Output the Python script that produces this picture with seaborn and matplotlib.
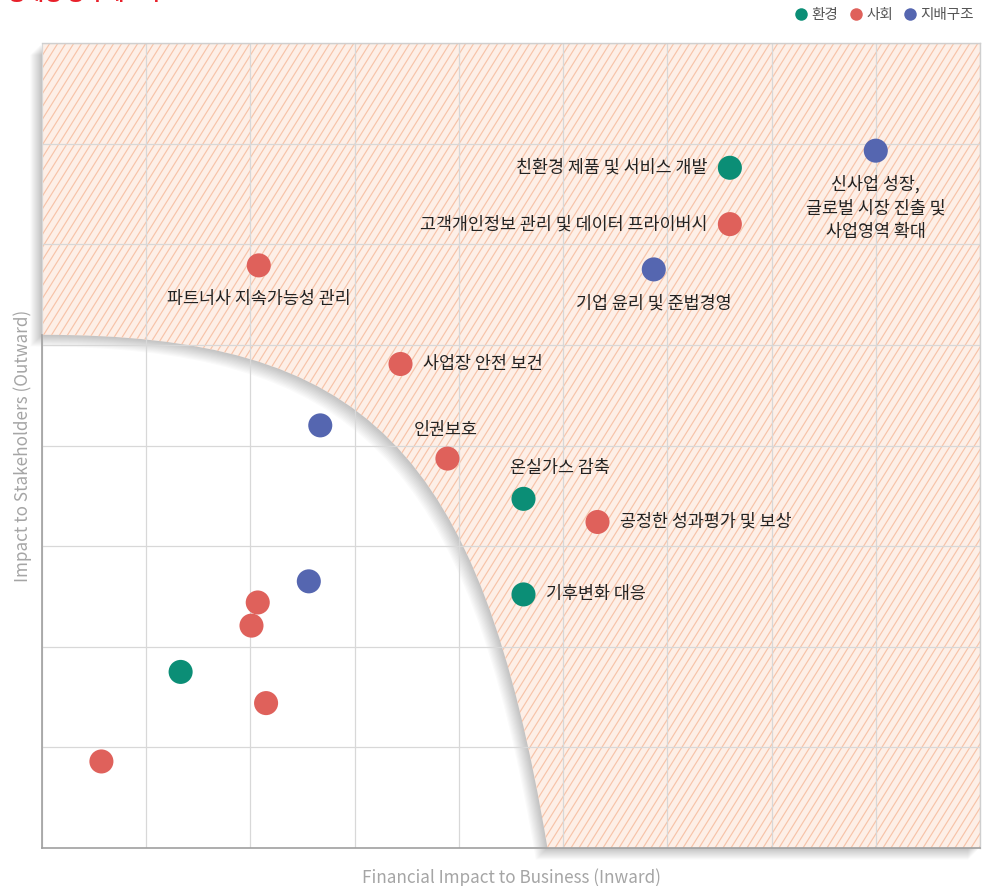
import numpy as np
import pandas as pd
import matplotlib
matplotlib.use('Agg')
import matplotlib.pyplot as plt
import matplotlib.patheffects as pe
from matplotlib.patches import PathPatch
from matplotlib.path import Path
from matplotlib.lines import Line2D
from matplotlib.collections import LineCollection
import seaborn as sns

# ---- data ----
issues = ['친환경 제품 및 서비스 개발', '고객개인정보 관리 및 데이터 프라이버시',
          '신사업 성장,\n글로벌 시장 진출 및\n사업영역 확대', '기업 윤리 및 준법경영',
          '파트너사 지속가능성 관리', '사업장 안전 보건', '', '인권보호', '온실가스 감축',
          '공정한 성과평가 및 보상', '기후변화 대응', '', '', '', '', '', '']
category = ['환경', '사회', '지배구조', '지배구조', '사회', '사회', '지배구조', '사회', '환경',
            '사회', '환경', '지배구조', '사회', '사회', '환경', '사회', '사회']
financial = [6.60, 6.60, 8.00, 5.87, 2.08, 3.44, 2.67, 3.89, 4.62,
             5.33, 4.62, 2.56, 2.07, 2.01, 1.33, 2.15, 0.57]
stakeholder = [6.76, 6.20, 6.93, 5.75, 5.79, 4.81, 4.20, 3.87, 3.47,
               3.24, 2.52, 2.65, 2.44, 2.21, 1.75, 1.44, 0.86]

label_pos = ['left', 'left', 'below', 'below', 'below', 'right', None, 'above', 'above_r',
             'right', 'right', None, None, None, None, None, None]

# boundary of the material-issue zone: one cubic bezier (data coords)
curve_ctrl = [(0.0, 5.1), (3.1, 5.1), (4.2, 4.0), (4.85, 0.0)]

palette = {'환경': '#0b8e76', '사회': '#df615b', '지배구조': '#5566b0'}

df = pd.DataFrame({'issue': issues, 'category': category,
                   'x': financial, 'y': stakeholder})

sns.set_style('white')
plt.rcParams['font.family'] = ['Noto Sans CJK KR', 'DejaVu Sans']

fig = plt.figure(figsize=(9.82, 8.86), dpi=100)
ax = fig.add_axes([42 / 982, 38 / 886, 938 / 982, 805 / 886])
ax.set_xlim(0, 9)
ax.set_ylim(0, 8)

# hatched zone with soft shadow
verts = curve_ctrl + [(9, 0), (9, 8), (0, 8), (0, 0)]
codes = [Path.MOVETO, Path.CURVE4, Path.CURVE4, Path.CURVE4,
         Path.LINETO, Path.LINETO, Path.LINETO, Path.CLOSEPOLY]
shadows = [pe.SimplePatchShadow(offset=(-0.7 * d, -0.7 * d), shadow_rgbFace='black', alpha=0.02)
           for d in range(1, 13)]
zone = PathPatch(Path(verts, codes), facecolor='#fdefe7', edgecolor='none',
                 zorder=0.1, clip_on=False, path_effects=shadows + [pe.Normal()])
ax.add_patch(zone)

W, H = 938, 805
run = H / np.tan(np.radians(58))
segs = [[(x0 / W, 0), ((x0 + run) / W, 1)] for x0 in np.arange(-run, W + 8, 8)]
lc = LineCollection(segs, colors='#f7c3a8', linewidths=0.85, transform=ax.transAxes, zorder=0.2)
ax.add_collection(lc)
lc.set_clip_path(zone)

ax.set_xticks(range(10))
ax.set_yticks(range(9))
ax.set_xticklabels([])
ax.set_yticklabels([])
ax.tick_params(length=0)
ax.grid(True, color='#d8d8d8', linewidth=0.9)
ax.set_axisbelow(True)

for side in ['top', 'right']:
    ax.spines[side].set_color('#cfcfcf')
    ax.spines[side].set_linewidth(1)
for side in ['left', 'bottom']:
    ax.spines[side].set_color('#a0a0a0')
    ax.spines[side].set_linewidth(1.2)
ax.spines['left'].set_bounds(0, 5.1)

sns.scatterplot(data=df, x='x', y='y', hue='category', palette=palette, s=300,
                linewidth=0, legend=False, ax=ax, zorder=3)

offsets = {'left': ((-16, 0), 'right', 'center'),
           'right': ((16, 0), 'left', 'center'),
           'below': ((0, -18), 'center', 'top'),
           'above': ((-1, 14), 'center', 'bottom'),
           'above_r': ((26, 16), 'center', 'bottom')}
for name, x, y, pos in zip(issues, financial, stakeholder, label_pos):
    if not pos:
        continue
    (dx, dy), ha, va = offsets[pos]
    ax.annotate(name, (x, y), xytext=(dx, dy), textcoords='offset points',
                ha=ha, va=va, fontsize=12.5, color='#222222', linespacing=1.4,
                multialignment='center', zorder=4)

ax.set_xlabel('Financial Impact to Business (Inward)', fontsize=12.3, color='#a5a5a5', labelpad=11)
ax.set_ylabel('Impact to Stakeholders (Outward)', fontsize=12.3, color='#a5a5a5', labelpad=4)

handles = [Line2D([0], [0], marker='o', linestyle='', markersize=9,
                  markerfacecolor=palette[c], markeredgewidth=0) for c in palette]
leg = fig.legend(handles, list(palette), loc='upper right', bbox_to_anchor=(1.0, 1.0),
                 ncol=3, frameon=False, fontsize=10.5, handlelength=0.8, handletextpad=0.3,
                 columnspacing=0.8, borderaxespad=0.15)
for t in leg.get_texts():
    t.set_color('#555555')

fig.text(0.008, 1 - 0.5 / 886, '중대성 평가 매트릭스', fontsize=14, fontweight='bold',
         color='#e8202a', va='baseline', ha='left')

fig.savefig('out.png', dpi=100)
